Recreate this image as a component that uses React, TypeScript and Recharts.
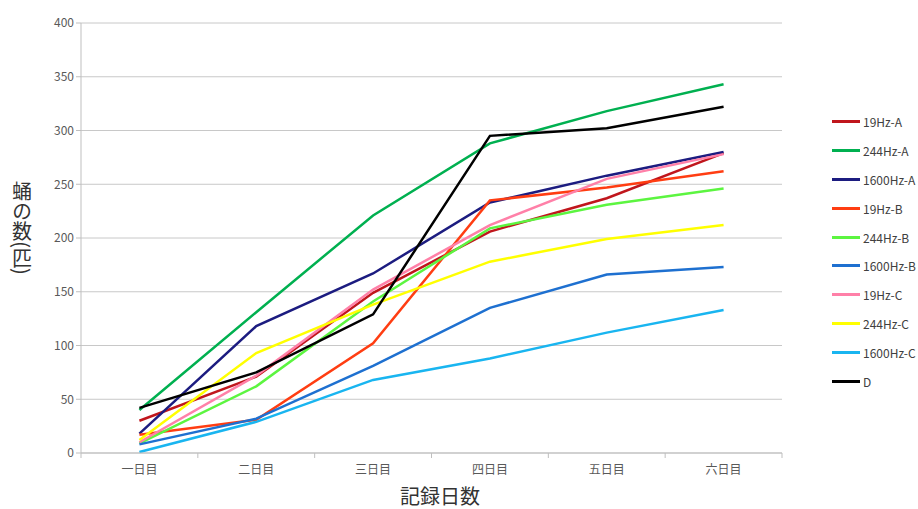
import React from "react";
import { LineChart, Line, XAxis, YAxis, CartesianGrid, Label } from "recharts";

const days = ["一日目", "二日目", "三日目", "四日目", "五日目", "六日目"];
const seriesNames = [
  "19Hz-A",
  "244Hz-A",
  "1600Hz-A",
  "19Hz-B",
  "244Hz-B",
  "1600Hz-B",
  "19Hz-C",
  "244Hz-C",
  "1600Hz-C",
  "D",
];
const seriesColors = [
  "#c0161c",
  "#00b050",
  "#1c1c80",
  "#ff3d12",
  "#5cf540",
  "#1e70d0",
  "#ff80a8",
  "#ffff00",
  "#19b5f0",
  "#000000",
];

const hz19A = [30, 71, 149, 206, 237, 279];
const hz244A = [40, 131, 221, 288, 318, 343];
const hz1600A = [18, 118, 167, 233, 258, 280];
const hz19B = [17, 31, 102, 235, 247, 262];
const hz244B = [9, 62, 141, 209, 231, 246];
const hz1600B = [8, 32, 81, 135, 166, 173];
const hz19C = [10, 72, 152, 212, 255, 278];
const hz244C = [12, 93, 138, 178, 199, 212];
const hz1600C = [1, 29, 68, 88, 112, 133];
const groupD = [42, 75, 129, 295, 302, 322];

const seriesValues = [hz19A, hz244A, hz1600A, hz19B, hz244B, hz1600B, hz19C, hz244C, hz1600C, groupD];
const yTicks = [0, 50, 100, 150, 200, 250, 300, 350, 400];

const data = days.map((day, i) => {
  const row: Record<string, string | number> = { day };
  seriesNames.forEach((name, s) => {
    row[name] = seriesValues[s][i];
  });
  return row;
});

const FONT = '"Noto Sans CJK JP", "Noto Sans", sans-serif';

// Excel style: tick marks sit on the category boundaries
const DayTick = (props: any) => {
  const { x, y, payload, index } = props;
  const half = payload.offset || 0;
  return (
    <g>
      <line x1={x - half} y1={y - 8} x2={x - half} y2={y - 3} stroke="#bfbfbf" />
      {index === days.length - 1 && (
        <line x1={x + half} y1={y - 8} x2={x + half} y2={y - 3} stroke="#bfbfbf" />
      )}
      <text x={x} y={y + 13} textAnchor="middle" fill="#595959" fontSize={12} fontFamily={FONT}>
        {payload.value}
      </text>
    </g>
  );
};

export default function App() {
  return (
    <div style={{ position: "absolute", left: 0, top: 0, width: 918, height: 509, background: "#fff" }}>
      <LineChart
        width={918}
        height={509}
        data={data}
        margin={{ top: 23, right: 136, left: 31, bottom: 26 }}
      >
        <CartesianGrid vertical={false} stroke="#c8c8c8" />
        <XAxis
          dataKey="day"
          scale="band"
          stroke="#bfbfbf"
          tickLine={false}
          tick={<DayTick />}
          height={30}
          interval={0}
        >
          <Label
            content={() => (
              <text x={440} y={504} textAnchor="middle" fill="#333" fontSize={20} fontFamily={FONT}>
                記録日数
              </text>
            )}
          />
        </XAxis>
        <YAxis
          domain={[0, 400]}
          ticks={yTicks}
          width={50}
          stroke="#bfbfbf"
          tickSize={5}
          tick={{ fill: "#595959", fontSize: 12, fontFamily: FONT }}
        >
          <Label
            content={() => (
              <text
                x={22}
                y={228}
                textAnchor="middle"
                fill="#333"
                fontSize={20}
                fontFamily={FONT}
                style={{ writingMode: "vertical-rl" }}
              >
                蛹の数(匹)
              </text>
            )}
          />
        </YAxis>
        {seriesNames.map((name, s) => (
          <Line
            key={name}
            dataKey={name}
            stroke={seriesColors[s]}
            strokeWidth={2.5}
            dot={false}
            activeDot={false}
            type="linear"
            isAnimationActive={false}
          />
        ))}
      </LineChart>
      <div style={{ position: "absolute", left: 832, top: 107 }}>
        {seriesNames.map((name, s) => (
          <div key={name} style={{ display: "flex", alignItems: "center", height: 28.9 }}>
            <div style={{ width: 28, height: 3, background: seriesColors[s] }} />
            <span style={{ marginLeft: 3, fontSize: 12, color: "#404040", fontFamily: FONT }}>{name}</span>
          </div>
        ))}
      </div>
    </div>
  );
}
